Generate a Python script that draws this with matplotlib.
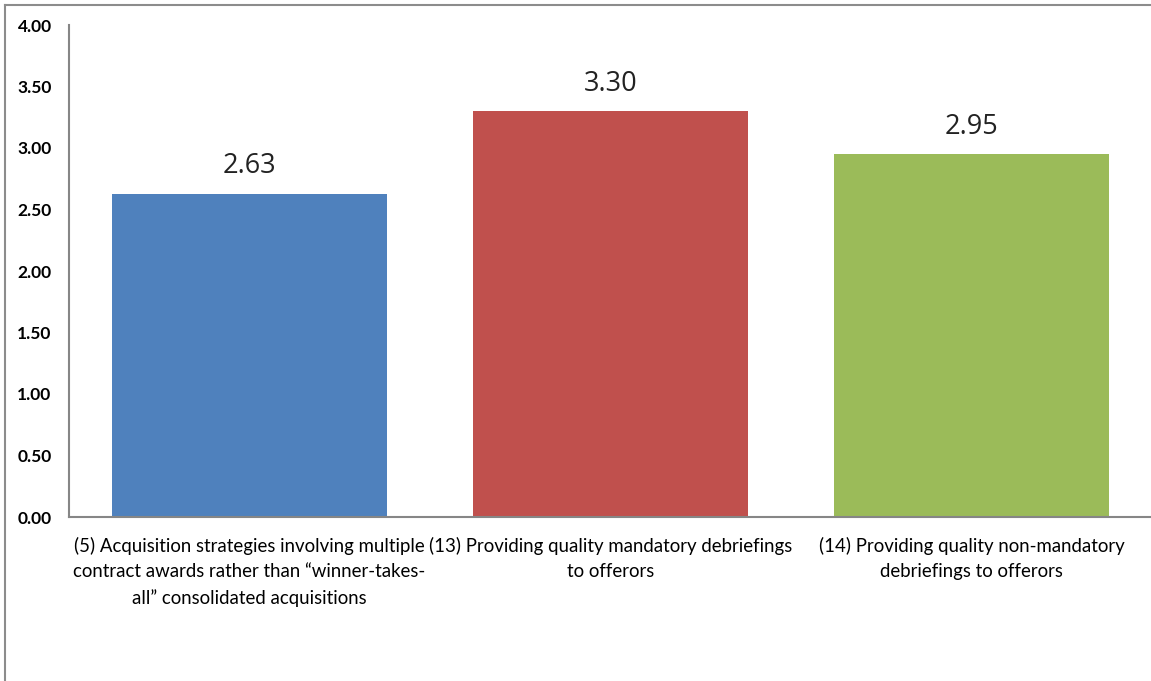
import matplotlib.pyplot as plt

# data
categories = [
    "(5) Acquisition strategies involving multiple\ncontract awards rather than \u201cwinner-takes-\nall\u201d consolidated acquisitions",
    "(13) Providing quality mandatory debriefings\nto offerors",
    "(14) Providing quality non-mandatory\ndebriefings to offerors",
]
values = [2.63, 3.30, 2.95]
colors = ["#4F81BD", "#C0504D", "#9BBB59"]
yticks = [0, 0.5, 1.0, 1.5, 2.0, 2.5, 3.0, 3.5, 4.0]

plt.rcParams['font.family'] = ['Lato', 'DejaVu Sans']

fig = plt.figure(figsize=(11.51, 6.81), dpi=100)
ax = fig.add_axes([69 / 1151, 1 - 517 / 681, 1083 / 1151, 492 / 681])

x = range(len(values))
bars = ax.bar(x, values, width=0.76, color=colors)

for b, v in zip(bars, values):
    ax.text(b.get_x() + b.get_width() / 2, v + 0.22, f"{v:.2f}",
            ha='center', va='center', fontsize=19.5, color='#222222',
            family=['Open Sans', 'DejaVu Sans'])

ax.set_xlim(-0.5, 2.5)
ax.set_ylim(0, 4)
ax.set_yticks(yticks)
ax.set_yticklabels([f"{t:.2f}" for t in yticks], fontsize=12.5, fontweight='bold')
ax.set_xticks(list(x))
ax.set_xticklabels(categories, fontsize=13.4, linespacing=1.62, multialignment='center')
ax.tick_params(axis='y', length=0, pad=12.5)
ax.tick_params(axis='x', length=0, pad=14)

for s in ['top', 'right']:
    ax.spines[s].set_visible(False)
for s in ['left', 'bottom']:
    ax.spines[s].set_color('#868686')
    ax.spines[s].set_linewidth(1.5)

# outer chart border (top and left visible)
fig.add_artist(plt.Line2D([5 / 1151, 5 / 1151], [0, 1 - 4.5 / 681], color='#8c8c8c', lw=1.5))
fig.add_artist(plt.Line2D([5 / 1151, 1], [1 - 4.5 / 681, 1 - 4.5 / 681], color='#8c8c8c', lw=1.5))

fig.savefig('out.png', dpi=100)
